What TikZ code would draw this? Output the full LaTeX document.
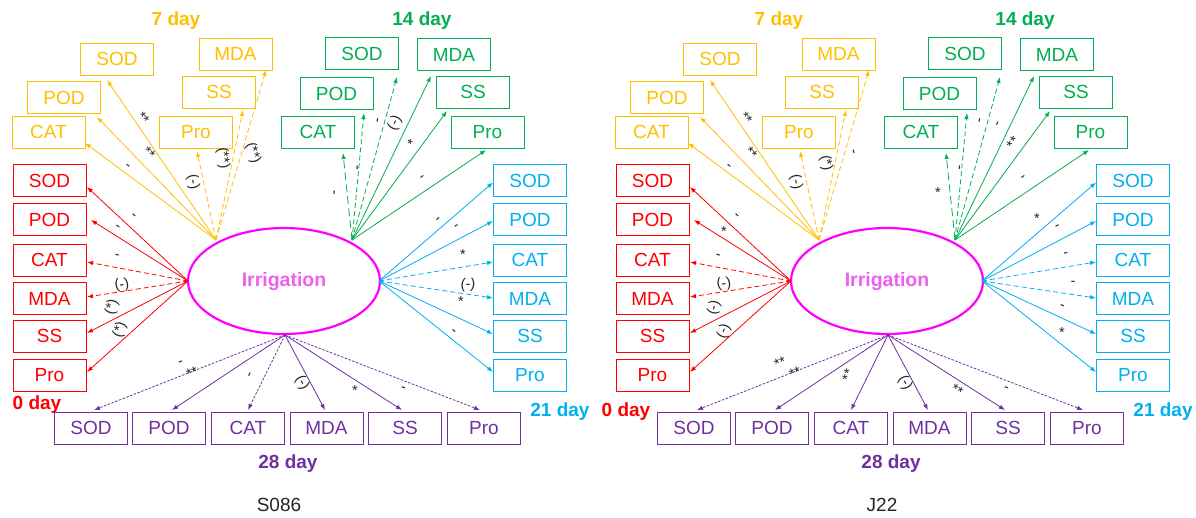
\documentclass[tikz,border=0pt]{standalone}
\usepackage{fontspec}
\setmainfont{Liberation Sans}
\usetikzlibrary{arrows.meta,shapes.geometric}

\definecolor{cRed}{HTML}{FF0000}
\definecolor{cYel}{HTML}{FFC000}
\definecolor{cGrn}{HTML}{00B050}
\definecolor{cBlu}{HTML}{00B0F0}
\definecolor{cPur}{HTML}{7030A0}
\definecolor{cMag}{HTML}{FF00FF}
\definecolor{cIrr}{HTML}{F060F0}

\tikzset{
  var/.style={draw, line width=0.9pt, minimum width=73pt, minimum height=32pt,
    inner sep=0pt, font=\fontsize{19}{22}\selectfont},
  daylbl/.style={font=\bfseries\fontsize{19}{22}\selectfont, inner sep=0pt},
  caption/.style={font=\fontsize{19}{22}\selectfont, text=black!85, inner sep=0pt},
  arr/.style={line width=0.8pt, -{Latex[length=6pt,width=4.5pt]}},
  sol/.style={},
  dsh/.style={dash pattern=on 5pt off 3pt},
  ldsh/.style={dash pattern=on 8pt off 4pt},
  fdsh/.style={dash pattern=on 2.5pt off 1.5pt},
  sig/.style={font=\fontsize{14.5}{16}\selectfont, text=black!85, inner sep=0pt},
}

% One panel: latent variable, the five groups of indicators, day titles.
% #1 name prefix, #2/#3 position of the "0 day" title, #4 caption
\newcommand\drawpanel[4]{%
  \node[ellipse, draw=cMag, line width=2.2pt, minimum width=192pt, minimum height=106pt,
    inner sep=0pt, text=cIrr, font=\bfseries\fontsize{19.5}{22}\selectfont]
    (#1irr) at (284,281) {Irrigation};
  \coordinate (#1hy) at (216,240);
  \coordinate (#1hg) at (352,240);
  \coordinate (#1hr) at (188,281);
  \coordinate (#1hb) at (379,281);
  \coordinate (#1hp) at (285,335);
  % 7 day
  \foreach \nm/\cx/\cy in {SOD/117/59, MDA/235.5/54, POD/64/97.5, SS/219/92, CAT/48.5/132, Pro/196/132}
    \node[var, cYel] (#1y\nm) at (\cx,\cy) {\nm};
  % 14 day
  \foreach \nm/\cx/\cy in {SOD/362/53.5, MDA/454/54.5, POD/336.5/93.5, SS/473/92, CAT/318/132, Pro/487.5/132}
    \node[var, cGrn] (#1g\nm) at (\cx,\cy) {\nm};
  % 0 day
  \foreach \nm/\cy in {SOD/180.5, POD/219.5, CAT/260, MDA/298.5, SS/336, Pro/375}
    \node[var, cRed] (#1r\nm) at (49.5,\cy) {\nm};
  % 21 day
  \foreach \nm/\cy in {SOD/180.5, POD/219.5, CAT/260, MDA/298.5, SS/336, Pro/375}
    \node[var, cBlu] (#1b\nm) at (530,\cy) {\nm};
  % 28 day
  \foreach \nm/\cx in {SOD/91, POD/169, CAT/248, MDA/326.5, SS/405, Pro/484}
    \node[var, cPur] (#1p\nm) at (\cx,428) {\nm};
  \node[daylbl, cYel] (#1t7) at (176,21) {7 day};
  \node[daylbl, cGrn] (#1t14) at (422,21) {14 day};
  \node[daylbl, cRed] (#1t0) at (#2,#3) {0 day};
  \node[daylbl, cBlu] (#1t21) at (560,412) {21 day};
  \node[daylbl, cPur] (#1t28) at (288,464) {28 day};
  \node[caption] (#1cap) at (279,505) {#4};
}

% Paths from the latent variable; #1 prefix, #2..#6 target offsets and line style per group
\newcommand\drawpaths[6]{%
  \foreach \nm/\dx/\dy/\st in {#2}
    \draw[arr, cYel, \st] (#1hy) -- ([shift={(\dx,\dy)}]#1y\nm.center);
  \foreach \nm/\dx/\dy/\st in {#3}
    \draw[arr, cGrn, \st] (#1hg) -- ([shift={(\dx,\dy)}]#1g\nm.center);
  \foreach \nm/\dx/\dy/\st in {#4}
    \draw[arr, cRed, \st] (#1hr) -- ([shift={(\dx,\dy)}]#1r\nm.center);
  \foreach \nm/\dx/\dy/\st in {#5}
    \draw[arr, cBlu, \st] (#1hb) -- ([shift={(\dx,\dy)}]#1b\nm.center);
  \foreach \nm/\dx/\dy/\st in {#6}
    \draw[arr, cPur, \st] (#1hp) -- ([shift={(\dx,\dy)}]#1p\nm.center);
}

\begin{document}
\begin{tikzpicture}[x=1pt, y=-1pt]
  \fill[white] (0,0) rectangle (1196,517);
  \useasboundingbox (0,0) rectangle (1196,517);

  % ---------------- S086 ----------------
  \drawpanel{L}{37}{405}{S086}
  \drawpaths{L}
    {SOD/-10/21/sol, POD/33/19.5/sol, CAT/36.5/11/sol, Pro/1/19/dsh, SS/24/18/dsh, MDA/30.5/16/dsh}
    {CAT/25/21/ldsh, POD/27.5/19.5/dsh, SOD/35/23.5/dsh, MDA/-23/21.5/sol, SS/-26/19/sol, Pro/-1.5/18/sol}
    {SOD/37.5/6.5/sol, POD/41.5/0.5/sol, CAT/37.5/2/dsh, MDA/37.5/-1.5/dsh, SS/37.5/-3/sol, Pro/37.5/-3/sol}
    {SOD/-37/2/sol, POD/-37/1.5/sol, CAT/-37/2/dsh, MDA/-37/-0.5/dsh, SS/-37/-2/sol, Pro/-37/-3/sol}
    {SOD/3/-18/fdsh, POD/3/-18/sol, CAT/0/-18/fdsh, MDA/-1.5/-18/sol, SS/-3/-18/sol, Pro/-4/-18/fdsh}
  % significance marks
  \node[sig, rotate=-56] (L1) at (143,118) {**};
  \node[sig, rotate=-46] (L2) at (149,153) {**};
  \node[sig, rotate=-36] (L3) at (127,167) {-};
  \node[sig, rotate=-78] (L4) at (193,182) {(-)};
  \node[sig, rotate=-82] (L5) at (223,158) {(**)};
  \node[sig, rotate=-72] (L6) at (253,153) {(**)};
  \node[sig, rotate=85] (L7) at (336,193) {-};
  \node[sig, rotate=85] (L8) at (359,168) {-};
  \node[sig, rotate=80] (L9) at (379,121) {-};
  \node[sig, rotate=64] (L10) at (395,123) {(-)};
  \node[sig, rotate=54] (L11) at (412,143) {*};
  \node[sig, rotate=34] (L12) at (423,178) {-};
  \node[sig, rotate=-43] (L13) at (133,217) {-};
  \node[sig, rotate=-32] (L14) at (117,228) {-};
  \node[sig, rotate=-11] (L15) at (117,257) {-};
  \node[sig, rotate=9] (L16) at (122,285) {(-)};
  \node[sig, rotate=75] (L17) at (112,307) {(*)};
  \node[sig, rotate=70] (L18) at (120,330) {(*)};
  \node[sig, rotate=41] (L19) at (439,220) {-};
  \node[sig, rotate=28] (L20) at (457,227) {-};
  \node[sig] (L21) at (463,255) {*};
  \node[sig, rotate=-5] (L22) at (468,285) {(-)};
  \node[sig] (L23) at (461,302) {*};
  \node[sig, rotate=-39] (L24) at (453,332) {-};
  \node[sig, rotate=21] (L25) at (181,364) {-};
  \node[sig, rotate=21] (L26) at (192,373) {**};
  \node[sig, rotate=64] (L27) at (251,375) {-};
  \node[sig, rotate=-62] (L28) at (302,383) {(-)};
  \node[sig] (L29) at (355,391) {*};
  \node[sig, rotate=-21] (L30) at (403,389) {-};

  % ---------------- J22 ----------------
  \begin{scope}[xshift=603pt]
  \drawpanel{R}{23}{412}{J22}
  \drawpaths{R}
    {SOD/-10/21/sol, POD/33/19.5/sol, CAT/36.5/11/sol, Pro/1/19/dsh, SS/24/18/dsh, MDA/30.5/16/dsh}
    {CAT/25/21/ldsh, POD/27.5/19.5/dsh, SOD/35/23.5/dsh, MDA/-23/21.5/sol, SS/-26/19/sol, Pro/-1.5/18/sol}
    {SOD/37.5/6.5/sol, POD/41.5/0.5/sol, CAT/37.5/2/dsh, MDA/37.5/-1.5/dsh, SS/37.5/-3/sol, Pro/37.5/-3/sol}
    {SOD/-37/2/sol, POD/-37/1.5/sol, CAT/-37/2/dsh, MDA/-37/-0.5/dsh, SS/-37/-2/sol, Pro/-37/-3/sol}
    {SOD/3/-18/fdsh, POD/3/-18/sol, CAT/0/-18/sol, MDA/-1.5/-18/sol, SS/-3/-18/sol, Pro/-4/-18/fdsh}
  % significance marks
  \node[sig, rotate=-56] (R1) at (143,118) {**};
  \node[sig, rotate=-46] (R2) at (148,153) {**};
  \node[sig, rotate=-36] (R3) at (125,167) {-};
  \node[sig, rotate=-78] (R4) at (193,182) {(-)};
  \node[sig, rotate=-80] (R5) at (223,163) {(*)};
  \node[sig, rotate=-75] (R6) at (249,152) {-};
  \node[sig] (R7) at (335,193) {*};
  \node[sig, rotate=85] (R8) at (358,168) {-};
  \node[sig, rotate=80] (R9) at (378,121) {-};
  \node[sig, rotate=65] (R10) at (396,124) {-};
  \node[sig, rotate=54] (R11) at (410,143) {**};
  \node[sig, rotate=34] (R12) at (421,178) {-};
  \node[sig, rotate=-43] (R13) at (133,217) {-};
  \node[sig] (R14) at (121,232) {*};
  \node[sig, rotate=-11] (R15) at (115,257) {-};
  \node[sig, rotate=9] (R16) at (121,284) {(-)};
  \node[sig, rotate=75] (R17) at (111,308) {(-)};
  \node[sig, rotate=70] (R18) at (121,331) {(-)};
  \node[sig] (R19) at (434,219) {*};
  \node[sig, rotate=28] (R20) at (455,227) {-};
  \node[sig, rotate=10] (R21) at (463,255) {-};
  \node[sig, rotate=-5] (R22) at (470,284) {-};
  \node[sig, rotate=-20] (R23) at (459,307) {-};
  \node[sig] (R24) at (459,333) {*};
  \node[sig, rotate=21] (R25) at (177,363) {**};
  \node[sig, rotate=21] (R26) at (192,373) {**};
  \node[sig, rotate=70] (R27) at (245,375) {**};
  \node[sig, rotate=-62] (R28) at (302,383) {(-)};
  \node[sig, rotate=-33] (R29) at (354,390) {**};
  \node[sig, rotate=-21] (R30) at (403,389) {-};
  \end{scope}
\end{tikzpicture}
\end{document}
